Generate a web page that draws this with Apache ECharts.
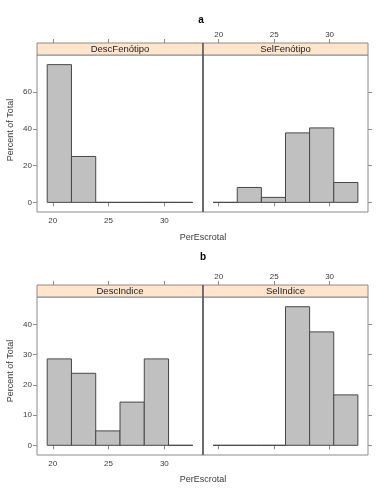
<!DOCTYPE html>
<html><head><meta charset="utf-8">
<script src="https://cdn.jsdelivr.net/npm/echarts@6/dist/echarts.min.js"></script>
<style>html,body{margin:0;padding:0;background:#fff}#c{width:388px;height:495px}</style>
</head><body><div id="c"></div>
<script>
// ---- data ----
var binEdges = [19.5, 21.675, 23.85, 26.025, 28.2, 30.375, 32.55];
var descFenotipo = [75, 25, 0, 0, 0, 0];
var selFenotipo = [0, 8.11, 2.70, 37.84, 40.54, 10.81];
var descIndice = [28.57, 23.81, 4.76, 14.29, 28.57, 0];
var selIndice = [0, 0, 0, 45.83, 37.5, 16.67];
var panelNames = ['DescFenótipo', 'SelFenótipo', 'DescIndice', 'SelIndice'];
var figureTitles = ['a', 'b'];
var xTicks = [20, 25, 30];
var yTicksA = [0, 20, 40, 60];
var yTicksB = [0, 10, 20, 30, 40];
var xRange = [18.586, 33.464];
var yRangeA = [-5.25, 80.25];
var yRangeB = [-3.208, 49.04];

var chart = echarts.init(document.getElementById('c'), null, {renderer: 'canvas'});
var FONT = 'Liberation Sans, Arial, sans-serif';
var BORDER = '#8a8a8a';
var TEXT = '#3a3a3a';

function binsData(vals) {
  return vals.map(function (v, i) { return [binEdges[i], binEdges[i + 1], v]; });
}

var panels = [
  {left: 37, top: 55, width: 166, height: 157, vals: descFenotipo, name: panelNames[0], side: 'L', yr: yRangeA, yt: yTicksA},
  {left: 203, top: 55, width: 165, height: 157, vals: selFenotipo, name: panelNames[1], side: 'R', yr: yRangeA, yt: yTicksA},
  {left: 37, top: 297, width: 166, height: 158, vals: descIndice, name: panelNames[2], side: 'L', yr: yRangeB, yt: yTicksB},
  {left: 203, top: 297, width: 165, height: 158, vals: selIndice, name: panelNames[3], side: 'R', yr: yRangeB, yt: yTicksB}
];
var STRIP = 12;

var grids = [], xAxes = [], yAxes = [], series = [], graphics = [];

panels.forEach(function (p, i) {
  grids.push({left: p.left, top: p.top, width: p.width, height: p.height, show: true,
    borderColor: BORDER, borderWidth: 1, backgroundColor: 'transparent', containLabel: false});
  var isL = p.side === 'L';
  xAxes.push({type: 'value', gridIndex: i, position: 'bottom', min: xRange[0], max: xRange[1],
    axisLine: {show: false}, splitLine: {show: false},
    axisTick: {show: true, length: 4, customValues: xTicks, lineStyle: {color: BORDER}},
    axisLabel: {show: isL, customValues: xTicks, margin: 5, color: TEXT, fontSize: 8, fontFamily: FONT}});
  xAxes.push({type: 'value', gridIndex: i, position: 'top', offset: STRIP, min: xRange[0], max: xRange[1],
    axisLine: {show: false}, splitLine: {show: false},
    axisTick: {show: true, length: 4, customValues: xTicks, lineStyle: {color: BORDER}},
    axisLabel: {show: !isL, customValues: xTicks, margin: 4, color: TEXT, fontSize: 8, fontFamily: FONT}});
  yAxes.push({type: 'value', gridIndex: i, position: isL ? 'left' : 'right', min: p.yr[0], max: p.yr[1],
    axisLine: {show: false}, splitLine: {show: false},
    axisTick: {show: true, length: 4, customValues: p.yt, lineStyle: {color: BORDER}},
    axisLabel: {show: isL, customValues: p.yt, margin: 5, color: TEXT, fontSize: 8, fontFamily: FONT}});
  series.push({type: 'custom', xAxisIndex: 2 * i, yAxisIndex: i, data: binsData(p.vals), clip: false,
    renderItem: function (params, api) {
      var a = api.coord([api.value(0), api.value(2)]);
      var b = api.coord([api.value(1), 0]);
      return {type: 'rect', shape: {x: a[0], y: a[1], width: b[0] - a[0], height: b[1] - a[1]},
        style: {fill: '#c0c0c0', stroke: '#474747', lineWidth: 1}};
    }});
  graphics.push({type: 'rect', shape: {x: p.left, y: p.top - STRIP, width: p.width, height: STRIP},
    style: {fill: '#ffe5cc', stroke: BORDER, lineWidth: 1}});
  graphics.push({type: 'text', x: p.left + p.width / 2, y: p.top - STRIP / 2,
    style: {text: p.name, fill: '#222', font: '9.5px ' + FONT, align: 'center', verticalAlign: 'middle'}});
});

// dark divider between the two panels of each figure
[[panels[1]], [panels[3]]].forEach(function (pp) {
  var p = pp[0];
  graphics.push({type: 'line', shape: {x1: p.left, y1: p.top - STRIP, x2: p.left, y2: p.top + p.height},
    style: {stroke: '#333', lineWidth: 1}, z: 10});
});

[[130, 238], [371, 480]].forEach(function (pos) {
  graphics.push({type: 'text', x: 11, y: pos[0], rotation: Math.PI / 2,
    style: {text: 'Percent of Total', fill: TEXT, font: '9px ' + FONT, align: 'center', verticalAlign: 'middle'}});
  graphics.push({type: 'text', x: 203, y: pos[1],
    style: {text: 'PerEscrotal', fill: TEXT, font: '9px ' + FONT, align: 'center', verticalAlign: 'middle'}});
});
graphics.push({type: 'text', x: 201, y: 20, style: {text: figureTitles[0], fill: '#000', font: 'bold 10px ' + FONT, align: 'center', verticalAlign: 'middle'}});
graphics.push({type: 'text', x: 203, y: 257, style: {text: figureTitles[1], fill: '#000', font: 'bold 10px ' + FONT, align: 'center', verticalAlign: 'middle'}});

chart.setOption({
  backgroundColor: '#fff',
  animation: false,
  grid: grids, xAxis: xAxes, yAxis: yAxes, series: series, graphic: graphics
});
</script></body></html>
